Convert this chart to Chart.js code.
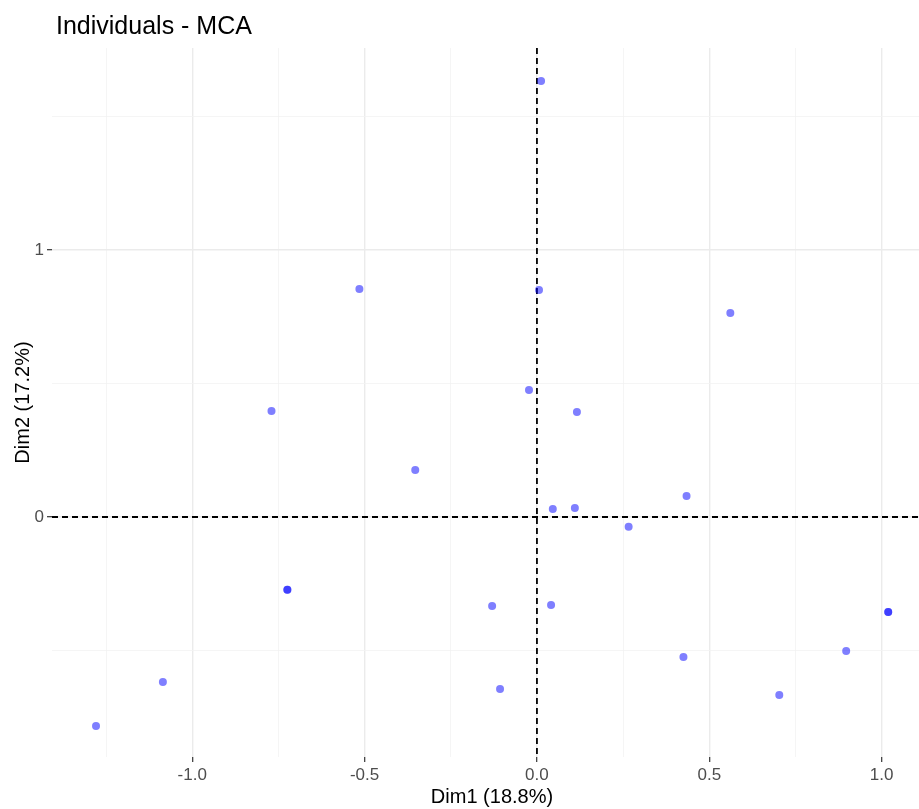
<!DOCTYPE html>
<html>
<head>
<meta charset="utf-8">
<title>Individuals - MCA</title>
<script src="https://cdn.jsdelivr.net/npm/chart.js@4.4.1/dist/chart.umd.min.js"></script>
<style>
  html, body { margin: 0; padding: 0; background: #fff; overflow: hidden; }
  #wrap { width: 919px; height: 809px; overflow: hidden; }
  canvas { display: block; }
</style>
</head>
<body>
<div id="wrap"><canvas id="mca" width="936" height="809" style="width:936px;height:809px"></canvas></div>
<script>
// individual coordinates
const dim1 = [0.012, -0.515, 0.006, 0.561, -0.770, -0.023, 0.116, -0.353, 0.434, 0.046, 0.110, 0.266,
  -0.724, -0.724, -0.130, 0.041, 1.019, 1.019, 0.425, 0.897, -1.085, -0.107, 0.703, -1.279];
const dim2 = [1.633, 0.854, 0.850, 0.764, 0.397, 0.476, 0.393, 0.176, 0.079, 0.030, 0.034, -0.037,
  -0.273, -0.273, -0.333, -0.330, -0.356, -0.356, -0.524, -0.502, -0.618, -0.644, -0.667, -0.783];

const xGrid = [-1.25, -1, -0.75, -0.5, -0.25, 0, 0.25, 0.5, 0.75, 1];
const xLabels = [-1, -0.5, 0, 0.5, 1];
const yGrid = [-0.5, 0, 0.5, 1, 1.5];
const yLabels = [0, 1];

Chart.defaults.font.family = '"Liberation Sans", Arial, Helvetica, sans-serif';

const points = dim1.map((v, i) => ({ x: v, y: dim2[i] }));

// dashed reference lines through the origin
const zeroLines = {
  id: 'zeroLines',
  beforeDatasetsDraw(chart) {
    const { ctx, chartArea: a, scales: { x, y } } = chart;
    const x0 = x.getPixelForValue(0);
    const y0 = y.getPixelForValue(0);
    ctx.save();
    ctx.strokeStyle = '#000';
    ctx.lineWidth = 1.8;
    ctx.setLineDash([6, 4]);
    ctx.beginPath();
    ctx.moveTo(x0, a.top);
    ctx.lineTo(x0, a.bottom);
    ctx.moveTo(a.left, y0);
    ctx.lineTo(a.right + 10, y0);
    ctx.stroke();
    ctx.restore();
  }
};

// ggplot-like title, left aligned to the panel
const plotTitle = {
  id: 'plotTitle',
  afterDraw(chart) {
    const { ctx, chartArea: a } = chart;
    ctx.save();
    ctx.fillStyle = '#000';
    ctx.font = '25px "Liberation Sans", Arial, sans-serif';
    ctx.textBaseline = 'alphabetic';
    ctx.fillText('Individuals - MCA', a.left + 4, 34);
    ctx.restore();
  }
};

function gridStyle(labels) {
  return {
    color: c => labels.includes(c.tick.value) ? '#ebebeb' : '#f3f3f3',
    lineWidth: c => labels.includes(c.tick.value) ? 1.4 : 0.8,
    tickColor: c => labels.includes(c.tick.value) ? '#333333' : 'rgba(0,0,0,0)',
    tickWidth: 1.2,
    tickLength: 5,
    drawTicks: true
  };
}

new Chart(document.getElementById('mca'), {
  type: 'scatter',
  data: {
    datasets: [{
      label: 'Individuals',
      data: points,
      backgroundColor: 'rgba(0, 0, 255, 0.5)',
      borderWidth: 0,
      pointRadius: 4,
      pointHoverRadius: 4
    }]
  },
  options: {
    responsive: false,
    animation: false,
    layout: { padding: { top: 48, right: 2, left: 0, bottom: 0 } },
    plugins: {
      legend: { display: false },
      tooltip: { enabled: false }
    },
    scales: {
      x: {
        type: 'linear',
        min: -1.4067,
        max: 1.146,
        afterBuildTicks: s => { s.ticks = xGrid.map(v => ({ value: v })); },
        afterFit: s => { s.height = 52; },
        border: { display: false },
        grid: gridStyle(xLabels),
        ticks: {
          autoSkip: false,
          maxRotation: 0,
          padding: 3,
          color: '#4d4d4d',
          font: { size: 17 },
          callback: v => xLabels.includes(v) ? v.toFixed(1) : ''
        },
        title: {
          display: true,
          text: 'Dim1 (18.8%)',
          color: '#000',
          font: { size: 20 },
          padding: { top: 0, bottom: 0 }
        }
      },
      y: {
        type: 'linear',
        min: -0.899,
        max: 1.7566,
        afterBuildTicks: s => { s.ticks = yGrid.map(v => ({ value: v })); },
        afterFit: s => { s.width = 52; },
        border: { display: false },
        grid: gridStyle(yLabels),
        ticks: {
          autoSkip: false,
          padding: 3,
          color: '#4d4d4d',
          font: { size: 17 },
          callback: v => yLabels.includes(v) ? String(v) : ''
        },
        title: {
          display: true,
          text: 'Dim2 (17.2%)',
          color: '#000',
          font: { size: 20 },
          padding: { top: 11, bottom: 0 }
        }
      }
    }
  },
  plugins: [zeroLines, plotTitle]
});
</script>
</body>
</html>
